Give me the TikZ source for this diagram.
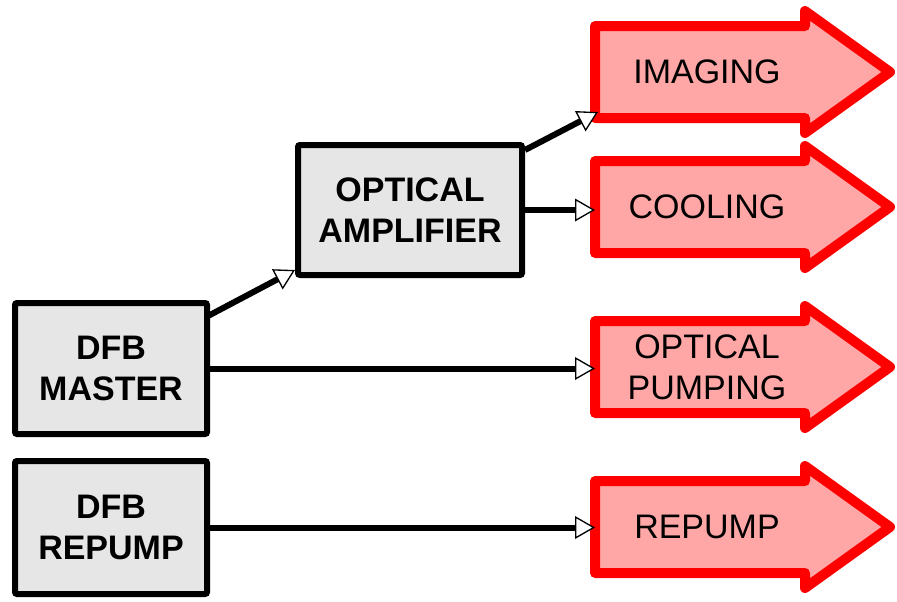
\documentclass[tikz,border=0pt]{standalone}
\usepackage{fontspec}
\setmainfont{Liberation Sans}
\usetikzlibrary{arrows.meta,calc}
\definecolor{boxgray}{RGB}{230,230,230}
\definecolor{beamred}{RGB}{255,0,0}
\definecolor{beampink}{RGB}{255,166,166}
\newcommand{\px}{0.75pt}
\newcommand{\bigfont}{\fontsize{25.5}{30.6}\selectfont}

\begin{document}
\begin{tikzpicture}[x=\px, y=-\px,
    laserbox/.style={draw, line width=4.5pt, fill=boxgray, rounded corners=1.5pt,
      align=center, inner sep=0pt, font=\bfseries\bigfont},
    beamshape/.style={draw=beamred, fill=beampink, line width=7.5pt, line join=round},
    beamtext/.style={anchor=west, minimum width=224*\px, minimum height=92*\px,
      inner sep=0pt, outer sep=0pt, align=center, font=\bigfont},
    feed/.style={line width=4.5pt, -{Triangle[fill=white, length=15pt, width=17pt, line width=1pt]}}]
    \useasboundingbox (0,0) rectangle (897,601);
    % lasers and amplifier
    \node[laserbox, minimum width=192*\px, minimum height=131*\px] (master) at (111,368.5) {DFB\\MASTER};
    \node[laserbox, minimum width=192*\px, minimum height=133*\px] (repumper) at (111,527.5) {DFB\\REPUMP};
    \node[laserbox, minimum width=224*\px, minimum height=130*\px] (amp) at (410,210) {OPTICAL\\AMPLIFIER};
    % outgoing beams: shaft from x=595 to 805, head to x=890
    \foreach \n/\y/\t in {img/72/IMAGING, cool/207/COOLING, pump/367/{OPTICAL\\PUMPING}, rep/527/REPUMP}{
      \draw[beamshape] (595,\y+46) -- (595,\y-46) -- (805,\y-46) -- (805,\y-61)
        -- (890,\y) -- (805,\y+61) -- (805,\y+46) -- cycle;
      \node[beamtext] (\n) at (595,\y) {\t};
    }
    % connections
    \draw[feed] ($(master.north east)+(-2,16)$) -- ($(amp.south west)+(0,-8)$);
    \draw[feed] ($(amp.north east)+(0,8)$) -- ($(img.south west)+(3,-6)$);
    \draw[feed] (amp.east) -- (amp.east -| cool.west);
    \draw[feed] (master.east) -- (master.east -| pump.west);
    \draw[feed] (repumper.east) -- (repumper.east -| rep.west);
  \end{tikzpicture}
\end{document}
